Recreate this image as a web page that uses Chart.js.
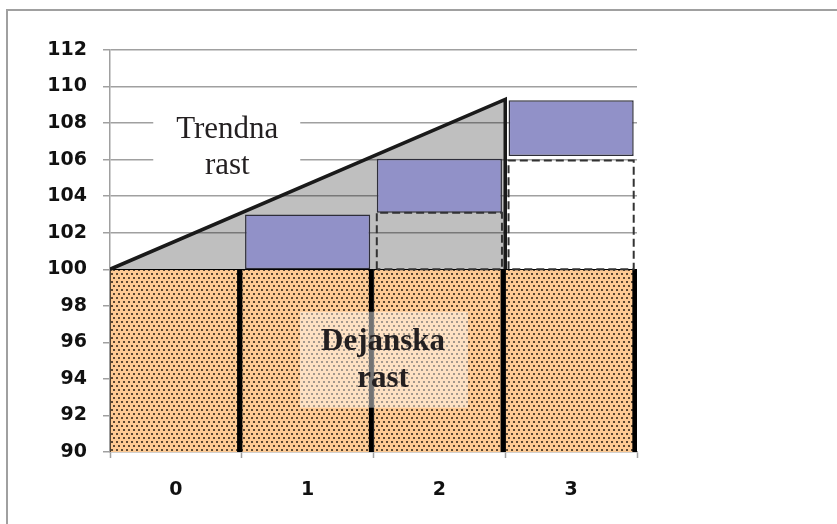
<!DOCTYPE html>
<html>
<head>
<meta charset="utf-8">
<script src="https://cdn.jsdelivr.net/npm/chart.js@4.4.1/dist/chart.umd.min.js"></script>
<style>
  body { margin: 0; background: #fff; }
  canvas { display: block; }
</style>
</head>
<body>
<canvas id="growthChart" width="837" height="524"></canvas>
<script>
// chart data
const periods = ['0', '1', '2', '3'];
const baseLevel = [[90, 100], [90, 100], [90, 100], [90, 100]];
const actualGrowth = [null, [100, 103], [103.1, 106.05], [106.2, 109.25]];
// trend triangle, x in period units (-0.5 = left edge of period 0)
const trendX = [-0.5, 2.5, 2.5];
const trendY = [100, 109.3, 100];
// dashed (expected) boxes per period
const dashedLow = [null, null, 100, 100];
const dashedHigh = [null, null, 103.1, 105.95];
const yMin = 90, yMax = 112, yStep = 2;

const trendLabel = ['Trendna', 'rast'];
const actualLabel = ['Dejanska', 'rast'];

function dotPattern() {
    const c = document.createElement('canvas');
    c.width = 10; c.height = 8;
    const g = c.getContext('2d');
    g.fillStyle = '#fdca94';
    g.fillRect(0, 0, 10, 8);
    g.fillStyle = '#5a4632';
    [[1, 1], [6, 1], [3, 5], [8, 5]].forEach(p => g.fillRect(p[0], p[1], 2, 2));
    return g.createPattern(c, 'repeat');
}

function boxPoints(i) {
    const half = 0.475;
    const lo = dashedLow[i], hi = dashedHigh[i];
    return [
        {x: i - half, y: lo}, {x: i - half, y: hi},
        {x: i + half, y: hi}, {x: i + half, y: lo}, {x: i - half, y: lo}
    ];
}

const ctx = document.getElementById('growthChart').getContext('2d');
const orangeDots = dotPattern();

// frame round the picture
const framePlugin = {
    id: 'frame',
    beforeDraw(chart) {
        const c = chart.ctx;
        c.save();
        c.fillStyle = '#fff';
        c.fillRect(0, 0, chart.width, chart.height);
        c.strokeStyle = '#a0a0a0';
        c.lineWidth = 2;
        c.beginPath();
        c.moveTo(7, chart.height);
        c.lineTo(7, 10);
        c.lineTo(chart.width, 10);
        c.stroke();
        c.restore();
    }
};

// the two text boxes
const labelPlugin = {
    id: 'labels',
    afterDatasetsDraw(chart) {
        const c = chart.ctx;
        const xs = chart.scales.x2, ys = chart.scales.y;
        c.save();
        c.textAlign = 'center';
        c.textBaseline = 'alphabetic';

        let cx = xs.getPixelForValue(0.39), cy = ys.getPixelForValue(106.75);
        c.fillStyle = '#fff';
        c.fillRect(cx - 74, cy - 42, 147, 80);
        c.fillStyle = '#231f20';
        c.font = '31px "Liberation Serif"';
        c.fillText(trendLabel[0], cx, cy - 8);
        c.fillText(trendLabel[1], cx, cy + 28);

        cx = xs.getPixelForValue(1.58); cy = ys.getPixelForValue(95.05);
        c.fillStyle = 'rgba(255,255,255,0.45)';
        c.fillRect(cx - 84, cy - 48, 168, 96);
        c.fillStyle = '#231f20';
        c.font = 'bold 31px "Liberation Serif"';
        c.fillText(actualLabel[0], cx - 1, cy - 10);
        c.fillText(actualLabel[1], cx - 1, cy + 27);
        c.restore();
    }
};

const growthChart = new Chart(ctx, {
    type: 'bar',
    data: {
        labels: periods,
        datasets: [
            {
                data: baseLevel,
                backgroundColor: orangeDots,
                borderColor: '#000',
                borderWidth: {left: 1, right: 5, top: 1, bottom: 0},
                borderSkipped: false,
                grouped: false,
                barPercentage: 1,
                categoryPercentage: 1,
                order: 5
            },
            {
                type: 'line',
                xAxisID: 'x2',
                data: trendX.map((x, i) => ({x: x, y: trendY[i]})),
                borderColor: '#1a1a1a',
                borderWidth: 3.5,
                borderJoinStyle: 'miter',
                backgroundColor: 'rgba(0,0,0,0.25)',
                fill: {value: 100},
                pointRadius: 0,
                tension: 0,
                order: 4
            },
            {
                type: 'line',
                xAxisID: 'x2',
                data: boxPoints(2),
                borderColor: '#333',
                borderWidth: 2,
                borderDash: [8, 4],
                fill: false,
                pointRadius: 0,
                tension: 0,
                order: 3
            },
            {
                type: 'line',
                xAxisID: 'x2',
                data: boxPoints(3),
                borderColor: '#333',
                borderWidth: 2,
                borderDash: [8, 4],
                fill: false,
                pointRadius: 0,
                tension: 0,
                order: 3
            },
            {
                data: actualGrowth,
                backgroundColor: '#9191c8',
                borderColor: '#2e2e3a',
                borderWidth: 1.5,
                borderSkipped: false,
                grouped: false,
                barPercentage: 0.95,
                categoryPercentage: 1,
                order: 2
            }
        ]
    },
    options: {
        responsive: false,
        animation: false,
        layout: {padding: {left: 0, top: 50, right: 200, bottom: 0}},
        plugins: {
            legend: {display: false},
            tooltip: {enabled: false}
        },
        scales: {
            x: {
                offset: true,
                grid: {
                    offset: true,
                    drawOnChartArea: false,
                    tickLength: 6,
                    tickColor: '#a0a0a0',
                    tickWidth: 1.5
                },
                border: {color: '#a0a0a0', width: 1.5},
                ticks: {
                    color: '#111',
                    font: {family: 'DejaVu Sans', size: 19, weight: 'bold'},
                    padding: 21
                },
                afterFit(scale) { scale.height = 72; }
            },
            x2: {
                type: 'linear',
                display: false,
                offset: false,
                grid: {offset: false},
                min: -0.5,
                max: 3.5
            },
            y: {
                min: yMin,
                max: yMax,
                ticks: {
                    stepSize: yStep,
                    color: '#111',
                    font: {family: 'DejaVu Sans', size: 19, weight: 'bold'},
                    padding: 16
                },
                grid: {
                    color: c => (c.tick && c.tick.value < 100) ? 'rgba(0,0,0,0)' : '#a0a0a0',
                    lineWidth: 1.5,
                    tickLength: 7,
                    tickColor: '#a0a0a0',
                    tickWidth: 1.5
                },
                border: {color: '#a0a0a0', width: 1.5},
                afterFit(scale) { scale.width = 110; }
            }
        }
    },
    plugins: [framePlugin, labelPlugin]
});
</script>
</body>
</html>
